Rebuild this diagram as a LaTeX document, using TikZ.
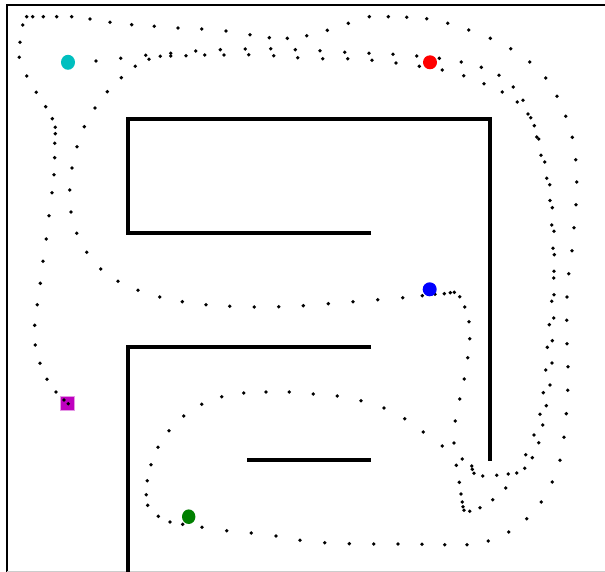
\documentclass[tikz,border=0pt]{standalone}
\usepackage{tikz}
\definecolor{mcyan}{RGB}{0,191,191}
\definecolor{mred}{RGB}{255,0,0}
\definecolor{mblue}{RGB}{0,0,255}
\definecolor{mgreen}{RGB}{0,128,0}
\definecolor{mmag}{RGB}{191,0,191}
\tikzset{
  wall/.style={line width=3.3pt,black},
  frame/.style={line width=2.8pt,black},
  dot/.style={fill=black},
  marker/.style={draw=none}
}
\begin{document}
\begin{tikzpicture}[x=1pt,y=-1pt]
\useasboundingbox (0,0) rectangle (605,572);
\fill[white] (0,0) rectangle (605,572);
% frame
\draw[frame] (7,572) -- (7,5) -- (605,5);
\draw[line width=1.2pt,black!20] (7,571.4) -- (605,571.4);
% walls
\draw[wall] (371,233) -- (128,233) -- (128,119) -- (490,119) -- (490,461);
\draw[wall] (371,347) -- (128,347) -- (128,572);
\draw[wall] (247,460) -- (371,460);
% trajectory dots
\foreach \x/\y in {
26.7/16.7,32.7/16.7,43.3/16.7,56.7/16.7,71.7/16.7,90/19,110/22.3,131.7/24.7,154.3/26.3,178/28,201.7/29,226/31,250/34.7,269.3/37.7,287.3/38.3,306.7/35.7,327.3/30.3,348.3/23.3,369.3/16.7,388.3/16.7,406.7/17.3,426.7/18.7,447.7/23.3,468.7/30,490.3/38.3,510.7/48.7,529.7/62,545.7/78,557/96.3,565.7/116.3,572.3/137.3,575.7/159.7,576.7/182,576/204.7,574/227.7,572/250.7,568.7/273.7,567/297,566.7/320.3,567/343.7,568/366.7,567.7/390.3,566.3/413.7,564/437.3,560/460.3,552.3/482,541.3/502,526.7/518.7,508.7/532,488.3/541,467/544.7,444.7/544.7,422/544.3,398/544,373.7/544,349.3/543.7,324.7/542.7,300/540.3,276/536,251.3/533,226.7/530.7,202/527.3,182.7/524.3,170/522,158.3/516.3,147.7/505.3,146.3/494.7,147.3/480.7,151/464.7,158/447.3,169/430.7,183.7/416,201.7/404.3,221.7/396.7,243.7/393,266/392,289.3/392,313.3/394,337.3/396,361/400.7,384/408,404.7/418.7,423.3/432,442.3/446,462.3/459,471.7/466,472.3/469.3,474/473.3,482.7/476,496.7/475.3,508.3/474,516.7/473,524.7/468.3,532.3/457.7,538.7/442.7,542.7/425,546.3/405.7,550/385,
22.7/25,20/42.3,19.3/57.3,26.7/76,36.3/92.3,45.7/106.7,52.3/118.7,55.3/127.3,55.3/133.7,54.7/143.3,54.7/157.7,54/174.7,52/192.7,49/215.7,46.3/239,43/261.3,40.3/283.3,37.3/304.7,34.7/325.3,35.3/345,40/363.3,47/379.3,56/392,
96/61,120.7/58.3,145.7/55.3,149/59.3,160.3/56.3,170.7/53.3,170.7/56,186/55.7,195.7/51,204.7/55,220.3/49.7,224/55,245.3/49,248.7/54.7,270.7/48.7,273.7/55.7,295.3/49.7,297.7/57.7,320/50.7,322.7/58.7,344.7/52.3,347.7/58.7,369/53.3,372/60.3,393/54.3,396/63,416.7/56,419.3/66.3,439.3/58.3,442.3/70,461.3/62,463.7/75.7,481.3/67.3,484/83.7,499/75.3,502.3/92,513.3/87,517.3/102,523/100.3,528/114,530.7/117.7,534.3/125.7,536.7/137,538.7/139,541/155.3,544.7/162,546.7/178.3,549.7/184.7,550/200.5,552.3/207.7,551.7/225,554/231.3,553/248.3,554.3/254.7,554/271.3,553.7/278,554/294.7,551.7/301.3,553.7/318,549.3/324.7,552.3/340.7,547.3/347.3,552/363,545.7/370,543.3/392.7,540/414.3,534/435,525.7/454.7,
505.7/488,492.7/499.7,480/507.7,469.7/511.3,464/510.3,463/506.7,462.3/502,461/494,459.3/482.3,456.3/465.3,454/443,455.3/421,459.7/399,464.2/379,467.7/357.7,469.7/338.7,469/321.7,464.7/307,459.7/296.7,454.3/292.3,450.3/292.7,444.3/293.7,435/294.3,422.3/295.7,402.7/297.7,377.7/299.7,353/301.7,328.3/303.7,303.3/305.7,278.7/306.7,254.3/307,229.7/306.3,206/304.7,182.3/301.7,159.7/297,138/290.3,118/281.3,100.7/269,86.7/252.3,76.7/233.3,71/212,69.7/190,72/168,77/146.7,84.3/126.7,95/108,107.3/91.7,121.3/77.7,135.3/66.3}
  \fill[dot] (\x,\y) circle (1.9);
% coloured markers
\fill[mcyan,marker] (68,62.3) ellipse (7 and 7.5);
\fill[mred,marker] (430,62.3) circle (7);
\fill[mblue,marker] (429.7,289.3) circle (7);
\fill[mgreen,marker] (188.7,516.7) ellipse (6.7 and 7.3);
\filldraw[fill=mmag,draw=mmag!40,line width=0.8pt] (60.7,396.3) rectangle (74.7,410.3);
\fill[dot] (64,400) circle (1.9);
\fill[dot] (68.3,403.7) circle (1.9);
\end{tikzpicture}
\end{document}
